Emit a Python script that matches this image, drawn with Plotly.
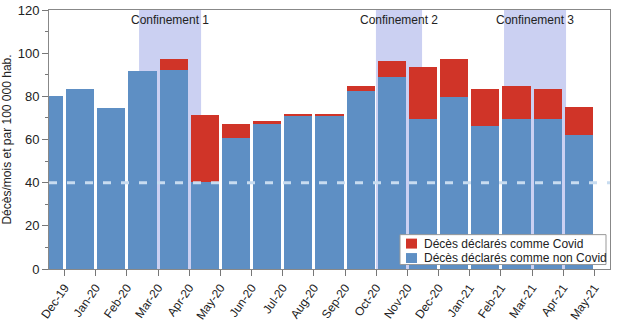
import plotly.graph_objects as go

months = ["Dec-19", "Jan-20", "Feb-20", "Mar-20", "Apr-20", "May-20", "Jun-20", "Jul-20",
          "Aug-20", "Sep-20", "Oct-20", "Nov-20", "Dec-20", "Jan-21", "Feb-21", "Mar-21",
          "Apr-21", "May-21"]
non_covid = [80.0, 83.3, 74.7, 91.7, 92.1, 40.5, 60.5, 67.1, 71.2, 71.3, 82.5, 88.8,
             69.6, 79.5, 66.2, 69.5, 69.3, 61.9]
covid = [0, 0, 0, 0, 5.2, 30.7, 6.6, 1.4, 0.3, 0.5, 2.2, 7.4,
         23.8, 17.6, 17.0, 15.5, 13.9, 13.2]
confinements = ["Confinement 1", "Confinement 2", "Confinement 3"]
conf_start = [2.89, 10.49, 14.6]
conf_end = [4.88, 11.97, 16.59]
threshold = 40
series_names = ["Décès déclarés comme Covid", "Décès déclarés comme non Covid"]

BLUE = "#5e8fc4"
RED = "#d03428"
SHADE = "#cbd0f2"
FONT = "Liberation Sans, Arial, sans-serif"

W, H = 625, 321
ML, MR, MT, MB = 49, 15, 9.5, 51.5
PW, PH = W - ML - MR, H - MT - MB


def px_x(p):
    return (p - ML) / PW


def px_y(p):
    return (H - MB - p) / PH


x = list(range(len(months)))

fig = go.Figure()
fig.add_trace(go.Bar(x=x, y=non_covid, name=series_names[1], showlegend=False,
                     marker=dict(color=BLUE, line=dict(width=0)), width=0.9))
fig.add_trace(go.Bar(x=x, y=covid, name=series_names[0], showlegend=False,
                     marker=dict(color=RED, line=dict(width=0)), width=0.9))

for name, s, e in zip(confinements, conf_start, conf_end):
    fig.add_shape(type="rect", xref="x", yref="y", x0=s, x1=e, y0=0, y1=120,
                  fillcolor=SHADE, line=dict(width=0), layer="below")
    fig.add_annotation(x=(s + e) / 2, y=115.5, xref="x", yref="y", text=name,
                       showarrow=False, font=dict(size=12, color="#222", family=FONT))

fig.add_shape(type="line", xref="paper", yref="y", x0=0, x1=1, y0=threshold, y1=threshold,
              line=dict(color="#c8dcf0", width=3, dash="8px,10px"), layer="above")

# legend box (drawn manually for compact spacing)
fig.add_shape(type="rect", xref="paper", yref="paper",
              x0=px_x(400), x1=px_x(606), y0=px_y(265), y1=px_y(235),
              fillcolor="white", line=dict(color="#999", width=1), layer="above")
for i, (nm, col) in enumerate(zip(series_names, [RED, BLUE])):
    yc = 244 + i * 14.5
    fig.add_shape(type="rect", xref="paper", yref="paper",
                  x0=px_x(406), x1=px_x(417), y0=px_y(yc + 5), y1=px_y(yc - 5),
                  fillcolor=col, line=dict(width=0), layer="above")
    fig.add_annotation(x=px_x(422), y=px_y(yc), xref="paper", yref="paper", text=nm,
                       xanchor="left", yanchor="middle", showarrow=False,
                       font=dict(size=12, color="#222", family=FONT))

fig.update_layout(
    width=W, height=H,
    margin=dict(l=ML, r=MR, t=MT, b=MB, autoexpand=False),
    barmode="stack", bargap=0,
    plot_bgcolor="white", paper_bgcolor="white",
    font=dict(family=FONT, size=12, color="#222"),
    showlegend=False,
)
fig.update_xaxes(range=[0, 18], tickmode="array", tickvals=[i + 0.5 for i in x],
                 ticktext=months, tickangle=-55, ticks="outside", ticklen=6,
                 tickcolor="#777", showgrid=False, zeroline=False, automargin=False,
                 showline=True, linecolor="#888", linewidth=1, mirror=True,
                 tickfont=dict(size=12, family=FONT))
fig.update_yaxes(range=[0, 120], tickmode="linear", dtick=20, ticks="outside", ticklen=6,
                 tickcolor="#777", showgrid=False, zeroline=False, automargin=False,
                 showline=True, linecolor="#888", linewidth=1, mirror=True,
                 minor=dict(ticks="outside", dtick=10, ticklen=3, tickcolor="#777"),
                 title=dict(text="Décès/mois et par 100 000 hab.", standoff=6,
                            font=dict(size=12, family=FONT)),
                 tickfont=dict(size=13, family=FONT))

fig.write_html("out.html")
